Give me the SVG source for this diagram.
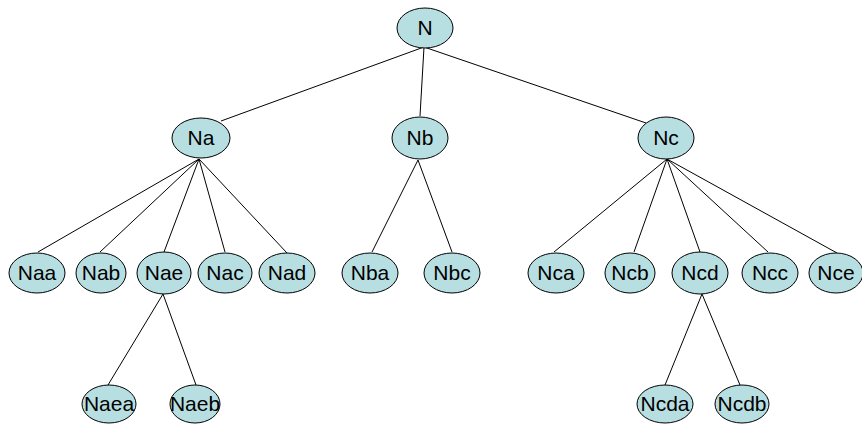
<svg xmlns="http://www.w3.org/2000/svg" width="862" height="425" viewBox="0 0 862 425">
  <style>
    .node ellipse { fill: #b7dfe2; stroke: #000; stroke-width: 1; }
    .node text { font-family: "Liberation Sans", Arial, sans-serif; font-size: 21px; fill: #000; text-anchor: middle; }
    #edges line { stroke: #000; stroke-width: 1; }
  </style>
  <rect width="862" height="425" fill="#fff"/>

  <!-- tree edges -->
  <g id="edges">
    <line x1="424" y1="47" x2="221" y2="121"/>
    <line x1="424" y1="47" x2="420" y2="116"/>
    <line x1="424" y1="47" x2="646" y2="123"/>

    <line x1="199" y1="159" x2="38" y2="252"/>
    <line x1="199" y1="159" x2="100" y2="252"/>
    <line x1="199" y1="159" x2="164" y2="252"/>
    <line x1="199" y1="159" x2="225" y2="252"/>
    <line x1="199" y1="159" x2="287" y2="253"/>

    <line x1="418" y1="160" x2="372" y2="252"/>
    <line x1="418" y1="160" x2="452" y2="252"/>

    <line x1="667" y1="159" x2="554" y2="252"/>
    <line x1="667" y1="159" x2="634" y2="252"/>
    <line x1="667" y1="159" x2="700" y2="252"/>
    <line x1="667" y1="159" x2="768" y2="252"/>
    <line x1="667" y1="159" x2="837" y2="253"/>

    <line x1="163" y1="294" x2="108" y2="385"/>
    <line x1="163" y1="294" x2="196" y2="385"/>

    <line x1="702" y1="294" x2="665" y2="385"/>
    <line x1="702" y1="294" x2="740" y2="385"/>
  </g>

  <!-- level 0 -->
  <g id="N" class="node"><ellipse cx="425" cy="28" rx="28" ry="20"/><text x="425" y="35">N</text></g>

  <!-- level 1 -->
  <g id="Na" class="node"><ellipse cx="201" cy="138" rx="29" ry="20"/><text x="201" y="145">Na</text></g>
  <g id="Nb" class="node"><ellipse cx="420" cy="138" rx="28" ry="21"/><text x="420" y="145">Nb</text></g>
  <g id="Nc" class="node"><ellipse cx="666" cy="138" rx="28" ry="21"/><text x="666" y="145">Nc</text></g>

  <!-- level 2 -->
  <g id="Naa" class="node"><ellipse cx="37" cy="273" rx="28" ry="20"/><text x="37" y="280">Naa</text></g>
  <g id="Nab" class="node"><ellipse cx="101" cy="273" rx="25" ry="20"/><text x="101" y="280">Nab</text></g>
  <g id="Nae" class="node"><ellipse cx="164" cy="273" rx="27" ry="21"/><text x="164" y="280">Nae</text></g>
  <g id="Nac" class="node"><ellipse cx="225" cy="273" rx="27" ry="20"/><text x="225" y="280">Nac</text></g>
  <g id="Nad" class="node"><ellipse cx="287" cy="273" rx="28" ry="20"/><text x="287" y="280">Nad</text></g>

  <g id="Nba" class="node"><ellipse cx="370" cy="273" rx="28" ry="20"/><text x="370" y="280">Nba</text></g>
  <g id="Nbc" class="node"><ellipse cx="452" cy="273" rx="28" ry="20"/><text x="452" y="280">Nbc</text></g>

  <g id="Nca" class="node"><ellipse cx="556" cy="273" rx="28" ry="20"/><text x="556" y="280">Nca</text></g>
  <g id="Ncb" class="node"><ellipse cx="630" cy="273" rx="25" ry="20"/><text x="630" y="280">Ncb</text></g>
  <g id="Ncd" class="node"><ellipse cx="700" cy="273" rx="28" ry="21"/><text x="700" y="280">Ncd</text></g>
  <g id="Ncc" class="node"><ellipse cx="770" cy="273" rx="28" ry="20"/><text x="770" y="280">Ncc</text></g>
  <g id="Nce" class="node"><ellipse cx="836" cy="273" rx="27" ry="20"/><text x="836" y="280">Nce</text></g>

  <!-- level 3 -->
  <g id="Naea" class="node"><ellipse cx="109" cy="404" rx="27" ry="19"/><text x="109" y="411">Naea</text></g>
  <g id="Naeb" class="node"><ellipse cx="195" cy="404" rx="25" ry="19"/><text x="195" y="411">Naeb</text></g>
  <g id="Ncda" class="node"><ellipse cx="665" cy="404" rx="28" ry="19"/><text x="665" y="411">Ncda</text></g>
  <g id="Ncdb" class="node"><ellipse cx="742" cy="404" rx="27" ry="19"/><text x="742" y="411">Ncdb</text></g>
</svg>
